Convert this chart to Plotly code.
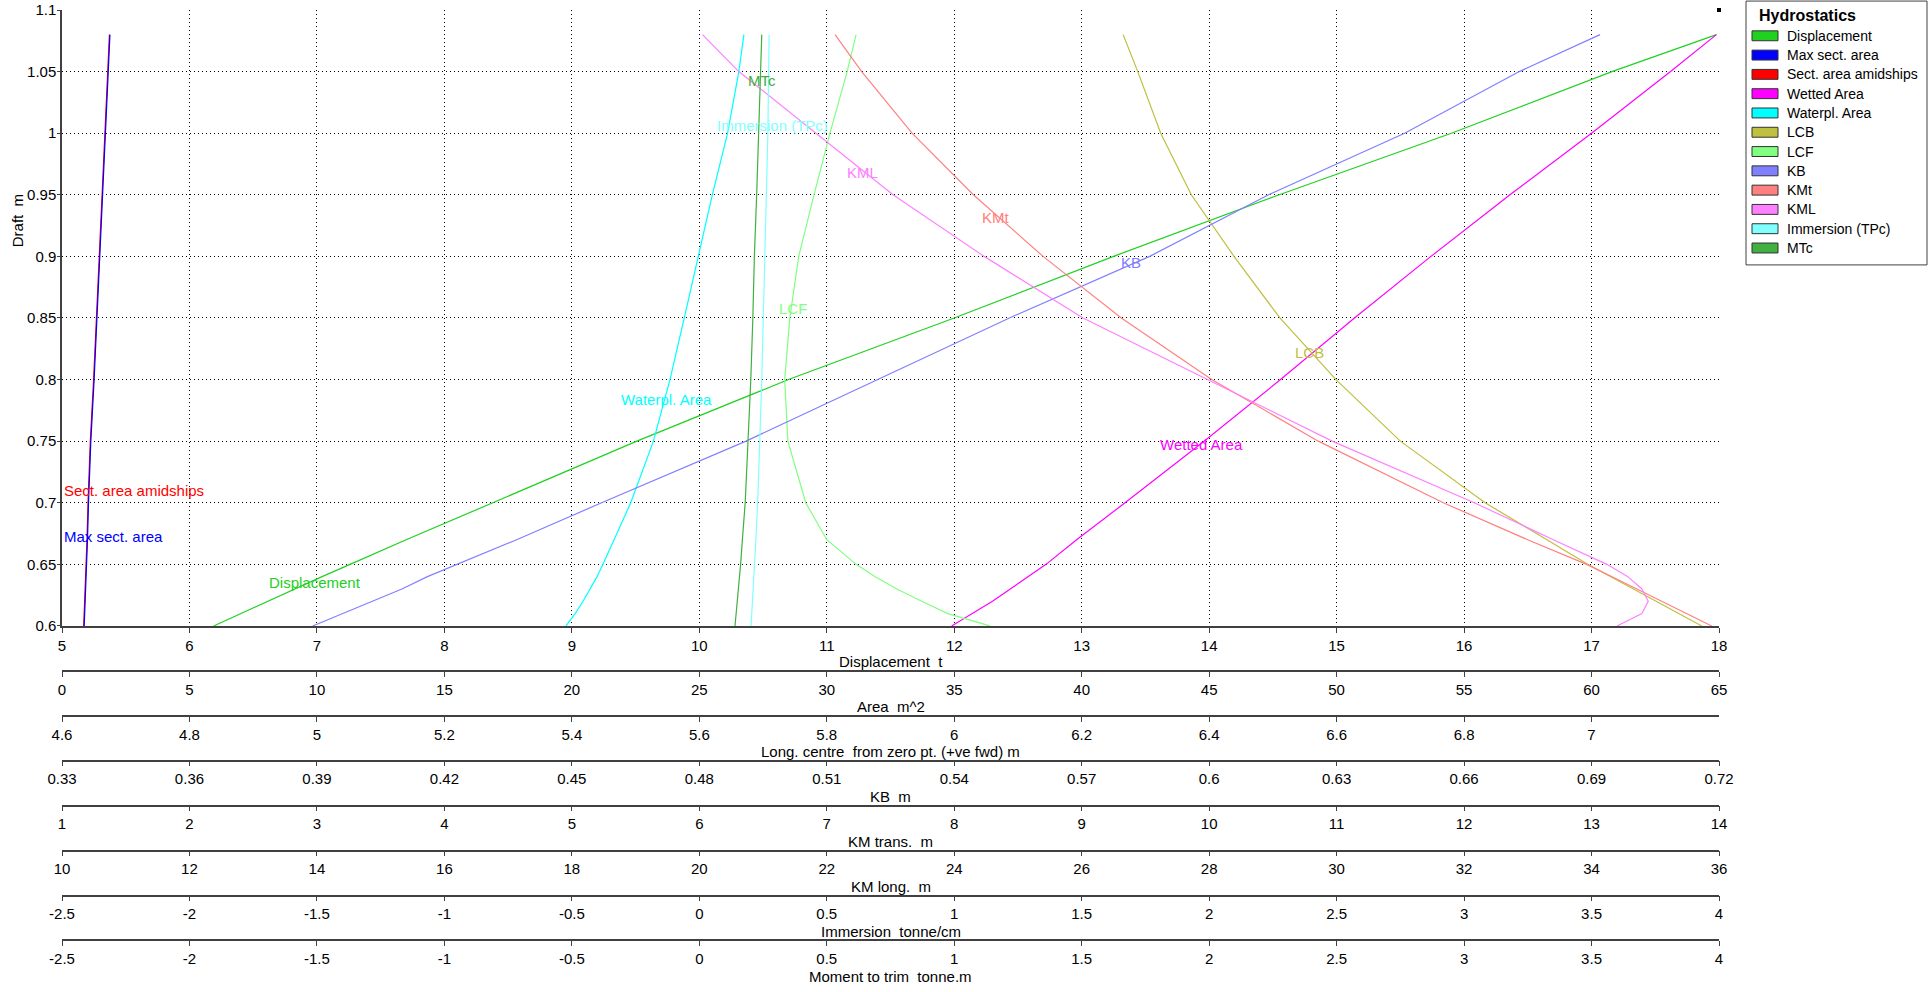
import plotly.graph_objects as go

# ---------------------------------------------------------------- data
drafts = [0.60, 0.61, 0.62, 0.63, 0.64, 0.65, 0.67, 0.70, 0.75, 0.80,
          0.85, 0.90, 0.95, 1.00, 1.05, 1.08]

displacement = [6.19, 6.40, 6.61, 6.82, 7.04, 7.26, 7.70, 8.38, 9.51, 10.70,
                12.00, 13.25, 14.55, 15.90, 17.16, 17.98]
max_sect_area = [0.87, 0.89, 0.91, 0.93, 0.95, 0.97, 1.00, 1.04, 1.13, 1.26,
                 1.37, 1.49, 1.60, 1.70, 1.80, 1.88]
sect_area_amidships = [0.85, 0.87, 0.89, 0.91, 0.93, 0.95, 0.98, 1.02, 1.11, 1.24,
                       1.35, 1.47, 1.58, 1.68, 1.78, 1.86]
wetted_area = [34.9, 35.7, 36.5, 37.2, 37.9, 38.6, 39.8, 41.7, 44.8, 47.8,
               50.7, 53.7, 56.8, 60.0, 63.1, 64.9]
waterplane_area = [19.77, 20.13, 20.44, 20.71, 20.99, 21.22, 21.66, 22.31, 23.20, 23.85,
                   24.41, 24.95, 25.51, 26.11, 26.55, 26.75]
lcb = [7.173, 7.137, 7.101, 7.067, 7.031, 6.994, 6.930, 6.833, 6.700, 6.599,
       6.511, 6.439, 6.372, 6.324, 6.288, 6.265]
lcf = [6.056, 5.990, 5.949, 5.910, 5.876, 5.846, 5.800, 5.767, 5.739, 5.734,
       5.742, 5.756, 5.780, 5.805, 5.832, 5.846]
kb = [0.389, 0.396, 0.403, 0.410, 0.416, 0.423, 0.437, 0.457, 0.491, 0.522,
      0.553, 0.586, 0.614, 0.646, 0.673, 0.692]
kmt = [13.943, 13.749, 13.553, 13.365, 13.161, 12.962, 12.499, 11.837, 10.856, 10.020,
       9.311, 8.697, 8.150, 7.669, 7.274, 7.065]
kml = [34.40, 34.79, 34.89, 34.79, 34.57, 34.24, 33.40, 32.16, 29.93, 27.98,
       26.02, 24.47, 23.04, 21.83, 20.62, 20.05]
immersion_tpc = [0.203, 0.206, 0.209, 0.212, 0.215, 0.218, 0.222, 0.229, 0.238, 0.245,
                 0.251, 0.257, 0.264, 0.269, 0.272, 0.274]
mtc = [0.140, 0.145, 0.149, 0.153, 0.158, 0.162, 0.169, 0.180, 0.191, 0.202,
       0.210, 0.216, 0.225, 0.232, 0.241, 0.245]

# y axis ticks
draft_ticks = [0.6, 0.65, 0.7, 0.75, 0.8, 0.85, 0.9, 0.95, 1.0, 1.05, 1.1]
draft_tick_text = ["0.6", "0.65", "0.7", "0.75", "0.8", "0.85", "0.9", "0.95", "1", "1.05", "1.1"]

# stacked x scales: title, range, tick values, tick labels
displacement_ticks = [5, 6, 7, 8, 9, 10, 11, 12, 13, 14, 15, 16, 17, 18]
area_ticks = [0, 5, 10, 15, 20, 25, 30, 35, 40, 45, 50, 55, 60, 65]
long_centre_ticks = [4.6, 4.8, 5.0, 5.2, 5.4, 5.6, 5.8, 6.0, 6.2, 6.4, 6.6, 6.8, 7.0]
long_centre_text = ["4.6", "4.8", "5", "5.2", "5.4", "5.6", "5.8", "6", "6.2", "6.4", "6.6", "6.8", "7"]
kb_ticks = [0.33, 0.36, 0.39, 0.42, 0.45, 0.48, 0.51, 0.54, 0.57, 0.60, 0.63, 0.66, 0.69, 0.72]
kb_text = ["0.33", "0.36", "0.39", "0.42", "0.45", "0.48", "0.51", "0.54", "0.57", "0.6",
           "0.63", "0.66", "0.69", "0.72"]
km_trans_ticks = [1, 2, 3, 4, 5, 6, 7, 8, 9, 10, 11, 12, 13, 14]
km_long_ticks = [10, 12, 14, 16, 18, 20, 22, 24, 26, 28, 30, 32, 34, 36]
tonne_ticks = [-2.5, -2, -1.5, -1, -0.5, 0, 0.5, 1, 1.5, 2, 2.5, 3, 3.5, 4]
tonne_text = ["-2.5", "-2", "-1.5", "-1", "-0.5", "0", "0.5", "1", "1.5", "2", "2.5", "3", "3.5", "4"]

scales = [
    ("Displacement \u00a0t", [5, 18], displacement_ticks, [str(v) for v in displacement_ticks]),
    ("Area \u00a0m^2", [0, 65], area_ticks, [str(v) for v in area_ticks]),
    ("Long. centre \u00a0from zero pt. (+ve fwd) m", [4.6, 7.2], long_centre_ticks, long_centre_text),
    ("KB \u00a0m", [0.33, 0.72], kb_ticks, kb_text),
    ("KM trans. \u00a0m", [1, 14], km_trans_ticks, [str(v) for v in km_trans_ticks]),
    ("KM long. \u00a0m", [10, 36], km_long_ticks, [str(v) for v in km_long_ticks]),
    ("Immersion \u00a0tonne/cm", [-2.5, 4], tonne_ticks, tonne_text),
    ("Moment to trim \u00a0tonne.m", [-2.5, 4], tonne_ticks, tonne_text),
]

# series: name, values, scale index, colour, label text, label position (displacement units, draft)
series = [
    ("Displacement", displacement, 0, "#22d022", "Displacement", 6.61, 0.6355),
    ("Max sect. area", max_sect_area, 1, "#0000ff", "Max sect. area", 5.0, 0.673),
    ("Sect. area amidships", sect_area_amidships, 1, "#ff0000", "Sect. area amidships", 5.0, 0.7097),
    ("Wetted Area", wetted_area, 1, "#ff00ff", "Wetted Area", 13.60, 0.747),
    ("Waterpl. Area", waterplane_area, 1, "#00ffff", "Waterpl. Area", 9.37, 0.7836),
    ("LCB", lcb, 2, "#bfbf40", "LCB", 14.66, 0.822),
    ("LCF", lcf, 2, "#80ff80", "LCF", 10.61, 0.858),
    ("KB", kb, 3, "#8080ff", "KB", 13.29, 0.895),
    ("KMt", kmt, 4, "#ff8080", "KMt", 12.20, 0.9315),
    ("KML", kml, 5, "#ff80ff", "KML", 11.14, 0.968),
    ("Immersion (TPc)", immersion_tpc, 6, "#80ffff", "Immersion (TPc)", 10.12, 1.0059),
    ("MTc", mtc, 7, "#40b040", "MTc", 10.37, 1.0427),
]

# ---------------------------------------------------------------- layout geometry
W, H = 1931, 992
ML, MR, MT, MB = 62, 212, 10, 0
plot_w = W - ML - MR
paper_h = H - MT - MB
plot_bottom_px = 631
scale_gap_px = 45.3
title_offset_px = 36

FONT = "Liberation Sans, Arial, sans-serif"
AXIS_COLOR = "#404040"
GRID_DASH = "1px,3px"


def px_to_paper_x(px):
    return (px - ML) / plot_w


def px_to_paper_y(py):
    return (H - MB - py) / paper_h


fig = go.Figure()

axis_ids = ["x"] + [f"x{i + 2}" for i in range(len(scales) - 1)]

# draw order: red under blue so both sectional curves show
draw_order = [0, 2, 1, 3, 4, 5, 6, 7, 8, 9, 10, 11]
for idx in draw_order:
    name, vals, s_idx, color, _, _, _ = series[idx]
    fig.add_trace(go.Scatter(
        x=vals, y=drafts, mode="lines", name=name,
        xaxis=axis_ids[s_idx], yaxis="y",
        line=dict(color=color, width=1.2),
        showlegend=False, hoverinfo="skip",
    ))

# curve captions
annotations = []
for name, vals, s_idx, color, text, lx, ly in series:
    annotations.append(dict(
        x=lx, y=ly, xref="x", yref="y", text=text, showarrow=False,
        xanchor="left", yanchor="middle",
        font=dict(family=FONT, size=15, color=color),
    ))

# scale titles under each axis
for k, (title, rng, tv, tt) in enumerate(scales):
    axis_py = plot_bottom_px + scale_gap_px * k
    annotations.append(dict(
        x=0.5, y=px_to_paper_y(axis_py + title_offset_px), xref="paper", yref="paper",
        text=title, showarrow=False, xanchor="center", yanchor="middle",
        font=dict(family=FONT, size=15, color="#000000"),
    ))

# vertical axis title
annotations.append(dict(
    x=px_to_paper_x(17), y=px_to_paper_y(223), xref="paper", yref="paper",
    text="Draft \u00a0m", textangle=-90, showarrow=False,
    xanchor="center", yanchor="middle",
    font=dict(family=FONT, size=15, color="#000000"),
))

# legend panel
shapes = []
leg_left, leg_right, leg_top, leg_bottom = 1746, 1927, 1, 267
shapes.append(dict(
    type="rect", xref="paper", yref="paper",
    x0=px_to_paper_x(leg_left), x1=px_to_paper_x(leg_right),
    y0=px_to_paper_y(leg_bottom), y1=px_to_paper_y(leg_top),
    line=dict(color="#404040", width=1), fillcolor="#ffffff", layer="below",
))
annotations.append(dict(
    x=px_to_paper_x(1757), y=px_to_paper_y(16), xref="paper", yref="paper",
    text="<b>Hydrostatics</b>", showarrow=False, xanchor="left", yanchor="middle",
    font=dict(family=FONT, size=16, color="#000000"),
))
row_h = 19.45
for i, (name, _, _, color, _, _, _) in enumerate(series):
    cy = 36 + row_h * i
    shapes.append(dict(
        type="rect", xref="paper", yref="paper",
        x0=px_to_paper_x(1752), x1=px_to_paper_x(1778),
        y0=px_to_paper_y(cy + 5), y1=px_to_paper_y(cy - 5),
        line=dict(color="#333333", width=1), fillcolor=color,
    ))
    annotations.append(dict(
        x=px_to_paper_x(1785), y=px_to_paper_y(cy), xref="paper", yref="paper",
        text=name, showarrow=False, xanchor="left", yanchor="middle",
        font=dict(family=FONT, size=14, color="#000000"),
    ))

# corner marker at the top right of the plot frame
shapes.append(dict(
    type="rect", xref="paper", yref="paper",
    x0=px_to_paper_x(1717), x1=px_to_paper_x(1721),
    y0=px_to_paper_y(12), y1=px_to_paper_y(8),
    line=dict(width=0), fillcolor="#000000",
))

tick_font = dict(family=FONT, size=15, color="#000000")

layout = dict(
    width=W, height=H, autosize=False,
    margin=dict(l=ML, r=MR, t=MT, b=MB, pad=0),
    paper_bgcolor="#ffffff", plot_bgcolor="#ffffff",
    font=dict(family=FONT, size=15, color="#000000"),
    showlegend=False,
    annotations=annotations,
    shapes=shapes,
    yaxis=dict(
        domain=[px_to_paper_y(plot_bottom_px), 1],
        range=[0.6, 1.1], tickvals=draft_ticks, ticktext=draft_tick_text,
        ticks="outside", ticklen=3, tickcolor=AXIS_COLOR,
        showline=True, linecolor=AXIS_COLOR, linewidth=1.5,
        showgrid=True, gridcolor="#000000", gridwidth=1, griddash=GRID_DASH,
        zeroline=False, tickfont=tick_font, ticklabelstandoff=-2,
    ),
)

for k, (title, rng, tv, tt) in enumerate(scales):
    ax = dict(
        range=rng, tickvals=tv, ticktext=tt,
        ticks="outside", ticklen=5, tickcolor=AXIS_COLOR,
        showline=True, linecolor=AXIS_COLOR, linewidth=1.5,
        zeroline=False, tickfont=tick_font, domain=[0, 1],
    )
    if k == 0:
        ax.update(anchor="y", showgrid=True, gridcolor="#000000",
                  gridwidth=1, griddash=GRID_DASH)
        layout["xaxis"] = ax
    else:
        ax.update(anchor="free", overlaying="x", side="bottom", showgrid=False,
                  position=px_to_paper_y(plot_bottom_px + scale_gap_px * k))
        layout[f"xaxis{k + 1}"] = ax

fig.update_layout(**layout)
fig.write_html("out.html")
